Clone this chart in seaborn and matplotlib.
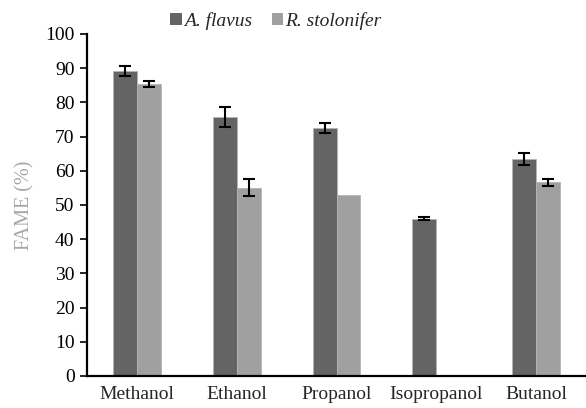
import matplotlib
matplotlib.use("Agg")
import matplotlib.pyplot as plt
import seaborn as sns
import pandas as pd
import numpy as np
from matplotlib.patches import Patch

categories = ["Methanol", "Ethanol", "Propanol", "Isopropanol", "Butanol"]
series_names = ["A. flavus", "R. stolonifer"]
aflavus = [89.1, 75.7, 72.6, 46.0, 63.4]
aflavus_err = [1.4, 3.0, 1.5, 0.5, 1.8]
rstol = [85.4, 55.0, 52.8, 0.0, 56.6]
rstol_err = [1.0, 2.5, 0.0, 0.0, 1.0]
yticks = list(range(0, 101, 10))

sns.set_theme(style="white")
plt.rcParams["font.family"] = ["Liberation Serif", "DejaVu Serif"]

df = pd.DataFrame({
    "Solvent": categories * 2,
    "Species": [series_names[0]] * 5 + [series_names[1]] * 5,
    "FAME": aflavus + rstol,
})

fig = plt.figure(figsize=(5.86, 4.08), dpi=100)
ax = fig.add_axes([87 / 586, 1 - 376 / 408, 1 - 87 / 586, (376 - 34) / 408])

palette = {series_names[0]: "#646464", series_names[1]: "#a0a0a0"}
sns.barplot(data=df, x="Solvent", y="FAME", hue="Species", order=categories,
            hue_order=series_names, palette=palette, width=0.48, errorbar=None,
            saturation=1, edgecolor="#b4b4b4", linewidth=0.6, ax=ax, legend=False)

errs = aflavus_err + rstol_err
vals = aflavus + rstol
for patch, v, e in zip(ax.patches[:10], vals, errs):
    if e > 0:
        cx = patch.get_x() + patch.get_width() / 2
        ax.errorbar(cx, v, yerr=e, fmt="none", ecolor="black", elinewidth=1.5,
                    capsize=4, capthick=1.5)

ax.set_ylim(0, 100)
ax.set_xlim(-0.5, 4.5)
ax.set_yticks(yticks)
ax.set_yticklabels([str(t) for t in yticks], fontsize=14)
ax.set_xticks(range(len(categories)))
ax.set_xticklabels(categories, fontsize=14)
ax.tick_params(axis="y", direction="out", length=5, width=1.2, left=True, pad=4, colors="black")
ax.tick_params(axis="x", length=0, pad=7)
ax.set_xlabel("")
ax.set_ylabel("FAME (%)", fontsize=14.5, color="#a6a6a6", labelpad=8)
for s in ["top", "right"]:
    ax.spines[s].set_visible(False)
for s in ["left", "bottom"]:
    ax.spines[s].set_color("black")
    ax.spines[s].set_linewidth(1.6)

handles = [Patch(facecolor=palette[n], edgecolor="none") for n in series_names]
fig.legend(handles, series_names, loc="center", bbox_to_anchor=(276 / 586, 1 - 21 / 408),
           ncol=2, frameon=False, prop={"style": "italic", "size": 14},
           handlelength=0.6, handleheight=0.6, handletextpad=0.1, columnspacing=1.0)

fig.savefig("out.png", dpi=100)
